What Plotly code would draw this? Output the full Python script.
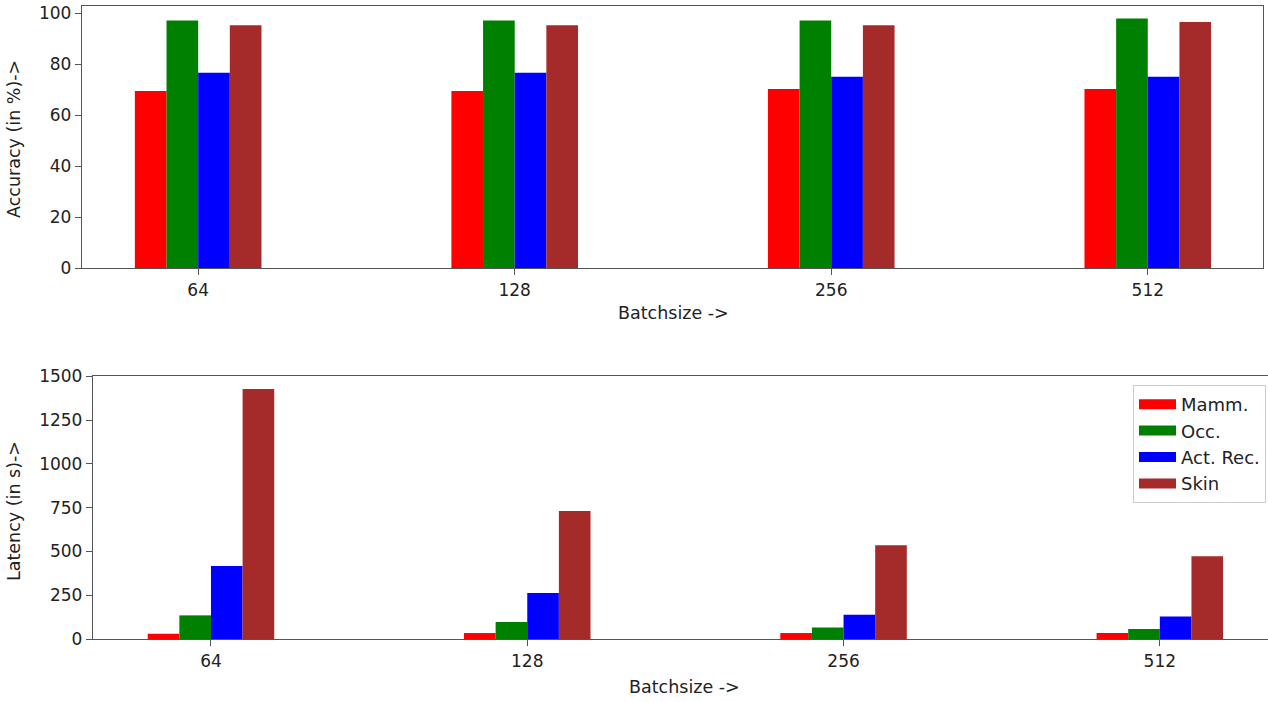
import plotly.graph_objects as go
from plotly.subplots import make_subplots

batch_sizes = ["64", "128", "256", "512"]
datasets = ["Mamm.", "Occ.", "Act. Rec.", "Skin"]
colors = ["#ff0000", "#008000", "#0000ff", "#a52a2a"]

acc_mamm = [69.5, 69.5, 70.3, 70.3]
acc_occ = [97.2, 97.2, 97.2, 98.0]
acc_act = [76.7, 76.7, 75.1, 75.1]
acc_skin = [95.3, 95.3, 95.3, 96.6]

lat_mamm = [30, 34, 34, 34]
lat_occ = [135, 97, 66, 57]
lat_act = [417, 263, 139, 129]
lat_skin = [1428, 731, 535, 472]

accuracy = [acc_mamm, acc_occ, acc_act, acc_skin]
latency = [lat_mamm, lat_occ, lat_act, lat_skin]

W, H = 1268, 702
FONT = "DejaVu Sans"
TXT = "#222222"
LINE = "#555555"

fig = make_subplots(rows=2, cols=1)

for name, col, acc, lat in zip(datasets, colors, accuracy, latency):
    fig.add_trace(go.Bar(x=batch_sizes, y=acc, name=name, marker_color=col,
                         marker_line_width=0, showlegend=False), row=1, col=1)
    fig.add_trace(go.Bar(x=batch_sizes, y=lat, name=name, marker_color=col,
                         marker_line_width=0, showlegend=False), row=2, col=1)
    # legend proxy (no data drawn)
    fig.add_trace(go.Scatter(x=[None], y=[None], mode="lines", name=name,
                             line=dict(color=col, width=13), showlegend=True),
                  row=2, col=1)

def px_x(p):
    return p / W

def px_y(p):
    return 1 - p / H

axis_common = dict(showline=True, linecolor=LINE, linewidth=1.3, ticks="outside",
                   ticklen=6, tickcolor=LINE, tickwidth=1.2, showgrid=False,
                   zeroline=False, automargin=False,
                   tickfont=dict(family=FONT, size=17, color=TXT))

fig.update_layout(
    width=W, height=H,
    margin=dict(l=0, r=0, t=0, b=0, autoexpand=False),
    paper_bgcolor="white", plot_bgcolor="white",
    barmode="group", bargap=0.6, bargroupgap=0,
    font=dict(family=FONT, size=17, color=TXT),
    legend=dict(x=px_x(1266), y=px_y(385), xanchor="right", yanchor="top",
                bgcolor="rgba(255,255,255,0.8)", bordercolor="#cccccc", borderwidth=1,
                font=dict(family=FONT, size=18, color=TXT), itemwidth=37,
                tracegroupgap=0),
    xaxis=dict(domain=[px_x(82), px_x(1263)], range=[-0.367, 3.364], mirror=True,
               **axis_common),
    yaxis=dict(domain=[px_y(268), px_y(6)], range=[0, 102.9], dtick=20, mirror=True,
               **axis_common),
    xaxis2=dict(domain=[px_x(93), 1.0], range=[-0.373, 3.342], mirror=True,
                **axis_common),
    yaxis2=dict(domain=[px_y(639), px_y(376)], range=[0, 1502], dtick=250, mirror=False,
                **axis_common),
)

annots = [
    dict(text="Batchsize ->", x=px_x(673), y=px_y(313)),
    dict(text="Batchsize ->", x=px_x(684), y=px_y(687)),
    dict(text="Accuracy (in %)->", x=px_x(14), y=px_y(139), textangle=-90),
    dict(text="Latency (in s)->", x=px_x(14), y=px_y(511), textangle=-90),
]
for a in annots:
    fig.add_annotation(xref="paper", yref="paper", showarrow=False,
                       xanchor="center", yanchor="middle",
                       font=dict(family=FONT, size=17.5, color=TXT), **a)

fig.write_html(
    "out.html",
    config={"displayModeBar": False},
    post_script="document.body.style.margin='0';document.body.style.overflow='hidden';",
)
